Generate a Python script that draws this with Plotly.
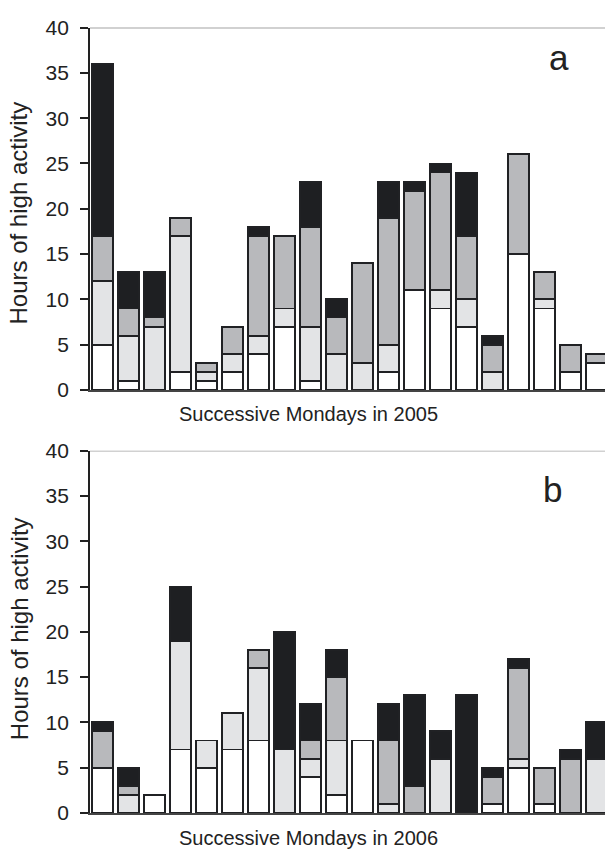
import plotly.graph_objects as go

# Hours of high activity on successive Mondays, split into four activity classes
mondays = list(range(1, 21))

# 2005 (panel a) — segment heights from bottom to top
white_2005 = [5, 1, 0, 2, 1, 2, 4, 7, 1, 0, 0, 2, 11, 9, 7, 0, 15, 9, 2, 3]
light_2005 = [7, 5, 7, 15, 1, 2, 2, 2, 6, 4, 3, 3, 0, 2, 3, 2, 0, 1, 0, 0]
grey_2005 = [5, 3, 1, 2, 1, 3, 11, 8, 11, 4, 11, 14, 11, 13, 7, 3, 11, 3, 3, 1]
black_2005 = [19, 4, 5, 0, 0, 0, 1, 0, 5, 2, 0, 4, 1, 1, 7, 1, 0, 0, 0, 0]

# 2006 (panel b)
white_2006 = [5, 0, 2, 7, 5, 7, 8, 0, 4, 2, 8, 0, 0, 0, 0, 1, 5, 1, 0, 0]
light_2006 = [0, 2, 0, 12, 3, 4, 8, 7, 2, 6, 0, 1, 0, 6, 0, 0, 1, 0, 0, 6]
grey_2006 = [4, 1, 0, 0, 0, 0, 2, 0, 2, 7, 0, 7, 3, 0, 0, 3, 10, 4, 6, 0]
black_2006 = [1, 2, 0, 6, 0, 0, 0, 13, 4, 3, 0, 4, 10, 3, 13, 1, 1, 0, 1, 4]

y_ticks = [0, 5, 10, 15, 20, 25, 30, 35, 40]

FILLS = ["#ffffff", "#e3e4e6", "#b8b9bc", "#1e1f22"]
EDGE = "#202124"
FONT = "Liberation Sans, Arial, Helvetica, sans-serif"


def nz(vals):
    return [v if v else None for v in vals]


fig = go.Figure()

panels = [
    ("x", "y", [white_2005, light_2005, grey_2005, black_2005]),
    ("x2", "y2", [white_2006, light_2006, grey_2006, black_2006]),
]
for xa, ya, segments in panels:
    for vals, fill in zip(segments, FILLS):
        fig.add_trace(go.Bar(
            x=mondays, y=nz(vals), xaxis=xa, yaxis=ya,
            marker=dict(color=fill, line=dict(color=EDGE, width=1.9)),
            showlegend=False, hoverinfo="skip",
        ))

W, H = 605, 867
L = 90
plot_w = W - L


def ydom(top_px, bottom_px):
    return [1 - bottom_px / H, 1 - top_px / H]


yaxis_common = dict(
    range=[0, 40], tickvals=y_ticks, ticks="outside", ticklen=8,
    tickwidth=1.6, tickcolor="#222", showline=True, linecolor="#222",
    linewidth=1.9, showgrid=False, zeroline=False,
    tickfont=dict(family=FONT, size=21, color="#222"),
    ticklabelstandoff=7,
)
xaxis_common = dict(
    range=[0.52, 20.33], showticklabels=False, ticks="", showline=True,
    linecolor="#444", linewidth=1.6, showgrid=False, zeroline=False,
)

fig.update_layout(
    width=W, height=H, autosize=False,
    margin=dict(l=L, r=0, t=0, b=0),
    paper_bgcolor="white", plot_bgcolor="white",
    barmode="stack", bargap=0.19,
    xaxis=dict(domain=[0, 1], anchor="y", **xaxis_common),
    yaxis=dict(domain=ydom(16, 388.3), anchor="x", **yaxis_common),
    xaxis2=dict(domain=[0, 1], anchor="y2", **xaxis_common),
    yaxis2=dict(domain=ydom(450.7, 822.7), anchor="x2", **yaxis_common),
)

# light rule along the top of each panel at 40 h
for xr, yr in [("x domain", "y"), ("x2 domain", "y2")]:
    fig.add_shape(type="line", xref=xr, yref=yr, x0=0, x1=1, y0=40, y1=40,
                  line=dict(color="#a3a3a3", width=1.6), layer="below")

annotations = []
# axis titles
for yc, xlabel, xc_y in [(207, "Successive Mondays in 2005", 413),
                          (634, "Successive Mondays in 2006", 848)]:
    annotations.append(dict(
        text="Hours of high activity", textangle=-90,
        xref="paper", yref="paper", x=0, y=1 - yc / H, xshift=-71,
        xanchor="center", yanchor="middle", showarrow=False,
        font=dict(family=FONT, size=24, color="#222"),
    ))
    annotations.append(dict(
        text=xlabel, xref="paper", yref="paper",
        x=(308 - L) / plot_w, y=1 - xc_y / H,
        xanchor="center", yanchor="middle", showarrow=False,
        font=dict(family=FONT, size=20, color="#222"),
    ))
# panel letters
for letter, cx, cy in [("a", 559, 47), ("b", 552, 491)]:
    annotations.append(dict(
        text=letter, xref="paper", yref="paper",
        x=(cx - L) / plot_w, y=1 - cy / H,
        xanchor="center", yanchor="middle", showarrow=False,
        font=dict(family=FONT, size=35, color="#222"),
    ))
fig.update_layout(annotations=annotations)

fig.write_html("out.html")
